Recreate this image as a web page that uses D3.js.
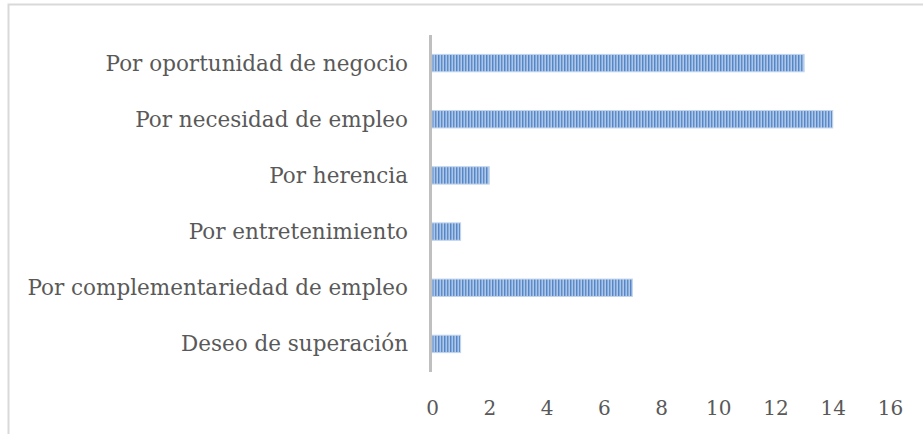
<!DOCTYPE html>
<html>
<head>
<meta charset="utf-8">
<script src="https://cdn.jsdelivr.net/npm/d3@7"></script>
<style>
  body { margin:0; background:#fff; }
  .axis text { font-family:"DejaVu Serif", serif; fill:#595959; }
</style>
</head>
<body>
<div id="canvas"></div>
<script>
// data
var categories = ['Por oportunidad de negocio','Por necesidad de empleo','Por herencia',
                  'Por entretenimiento','Por complementariedad de empleo','Deseo de superación'];
var values = [13, 14, 2, 1, 7, 1];
var xTicks = [0,2,4,6,8,10,12,14,16];

var W = 923, H = 434;
var m = {t:35, l:432, r:33, b:62};
var w = W - m.l - m.r, h = H - m.t - m.b;

var svg = d3.select('#canvas').append('svg')
    .attr('width', W).attr('height', H);

// frame
svg.append('rect')
    .attr('x', 8.5).attr('y', 4.5)
    .attr('width', W + 20).attr('height', H + 20)
    .attr('fill', 'none').attr('stroke', '#d9d9d9').attr('stroke-width', 2);

// striped fill
var defs = svg.append('defs');
var pat = defs.append('pattern')
    .attr('id', 'stripes').attr('patternUnits', 'userSpaceOnUse')
    .attr('width', 6).attr('height', 10);
var stripeCols = ['#5585c5','#86a9d9','#a9c5e8','#5f8dca','#8aaedc','#b0c9ea'];
stripeCols.forEach(function(c, i){
  pat.append('rect').attr('x', i).attr('y', 0).attr('width', 1).attr('height', 10).attr('fill', c);
});

var plot = svg.append('g').attr('transform', 'translate(' + m.l + ',' + m.t + ')');

var scaleX = d3.scaleLinear().domain([0,16]).range([0, w]);
var scaleY = d3.scaleBand().domain(categories).range([0, h]).paddingInner(0.69).paddingOuter(0.345);

plot.selectAll('rect.bar')
    .data(values)
    .enter()
    .append('rect')
    .attr('class', 'bar')
    .attr('x', 0)
    .attr('y', function(d, i){ return scaleY(categories[i]); })
    .attr('width', function(d){ return scaleX(d); })
    .attr('height', scaleY.bandwidth())
    .attr('fill', 'url(#stripes)')
    .attr('stroke', '#c2d5ee').attr('stroke-width', 1);

// y axis line
plot.append('line')
    .attr('x1', -1.5).attr('x2', -1.5).attr('y1', 0).attr('y2', h)
    .attr('stroke', '#bfbfbf').attr('stroke-width', 3);

// category labels
plot.selectAll('text.cat')
    .data(categories)
    .enter()
    .append('text')
    .attr('class', 'cat')
    .attr('x', -24)
    .attr('y', function(d){ return scaleY(d) + scaleY.bandwidth()/2; })
    .attr('dy', '0.35em')
    .attr('text-anchor', 'end')
    .style('font-family', '"DejaVu Serif", serif')
    .style('font-size', '21.5px')
    .style('fill', '#595959')
    .text(function(d){ return d; });

// x axis (labels only)
var axisX = d3.axisBottom(scaleX).tickValues(xTicks).tickSize(0).tickPadding(29);
var gx = plot.append('g').attr('class', 'axis')
    .attr('transform', 'translate(0,' + h + ')')
    .call(axisX);
gx.select('.domain').remove();
gx.selectAll('text').style('font-size', '20px');
</script>
</body>
</html>
